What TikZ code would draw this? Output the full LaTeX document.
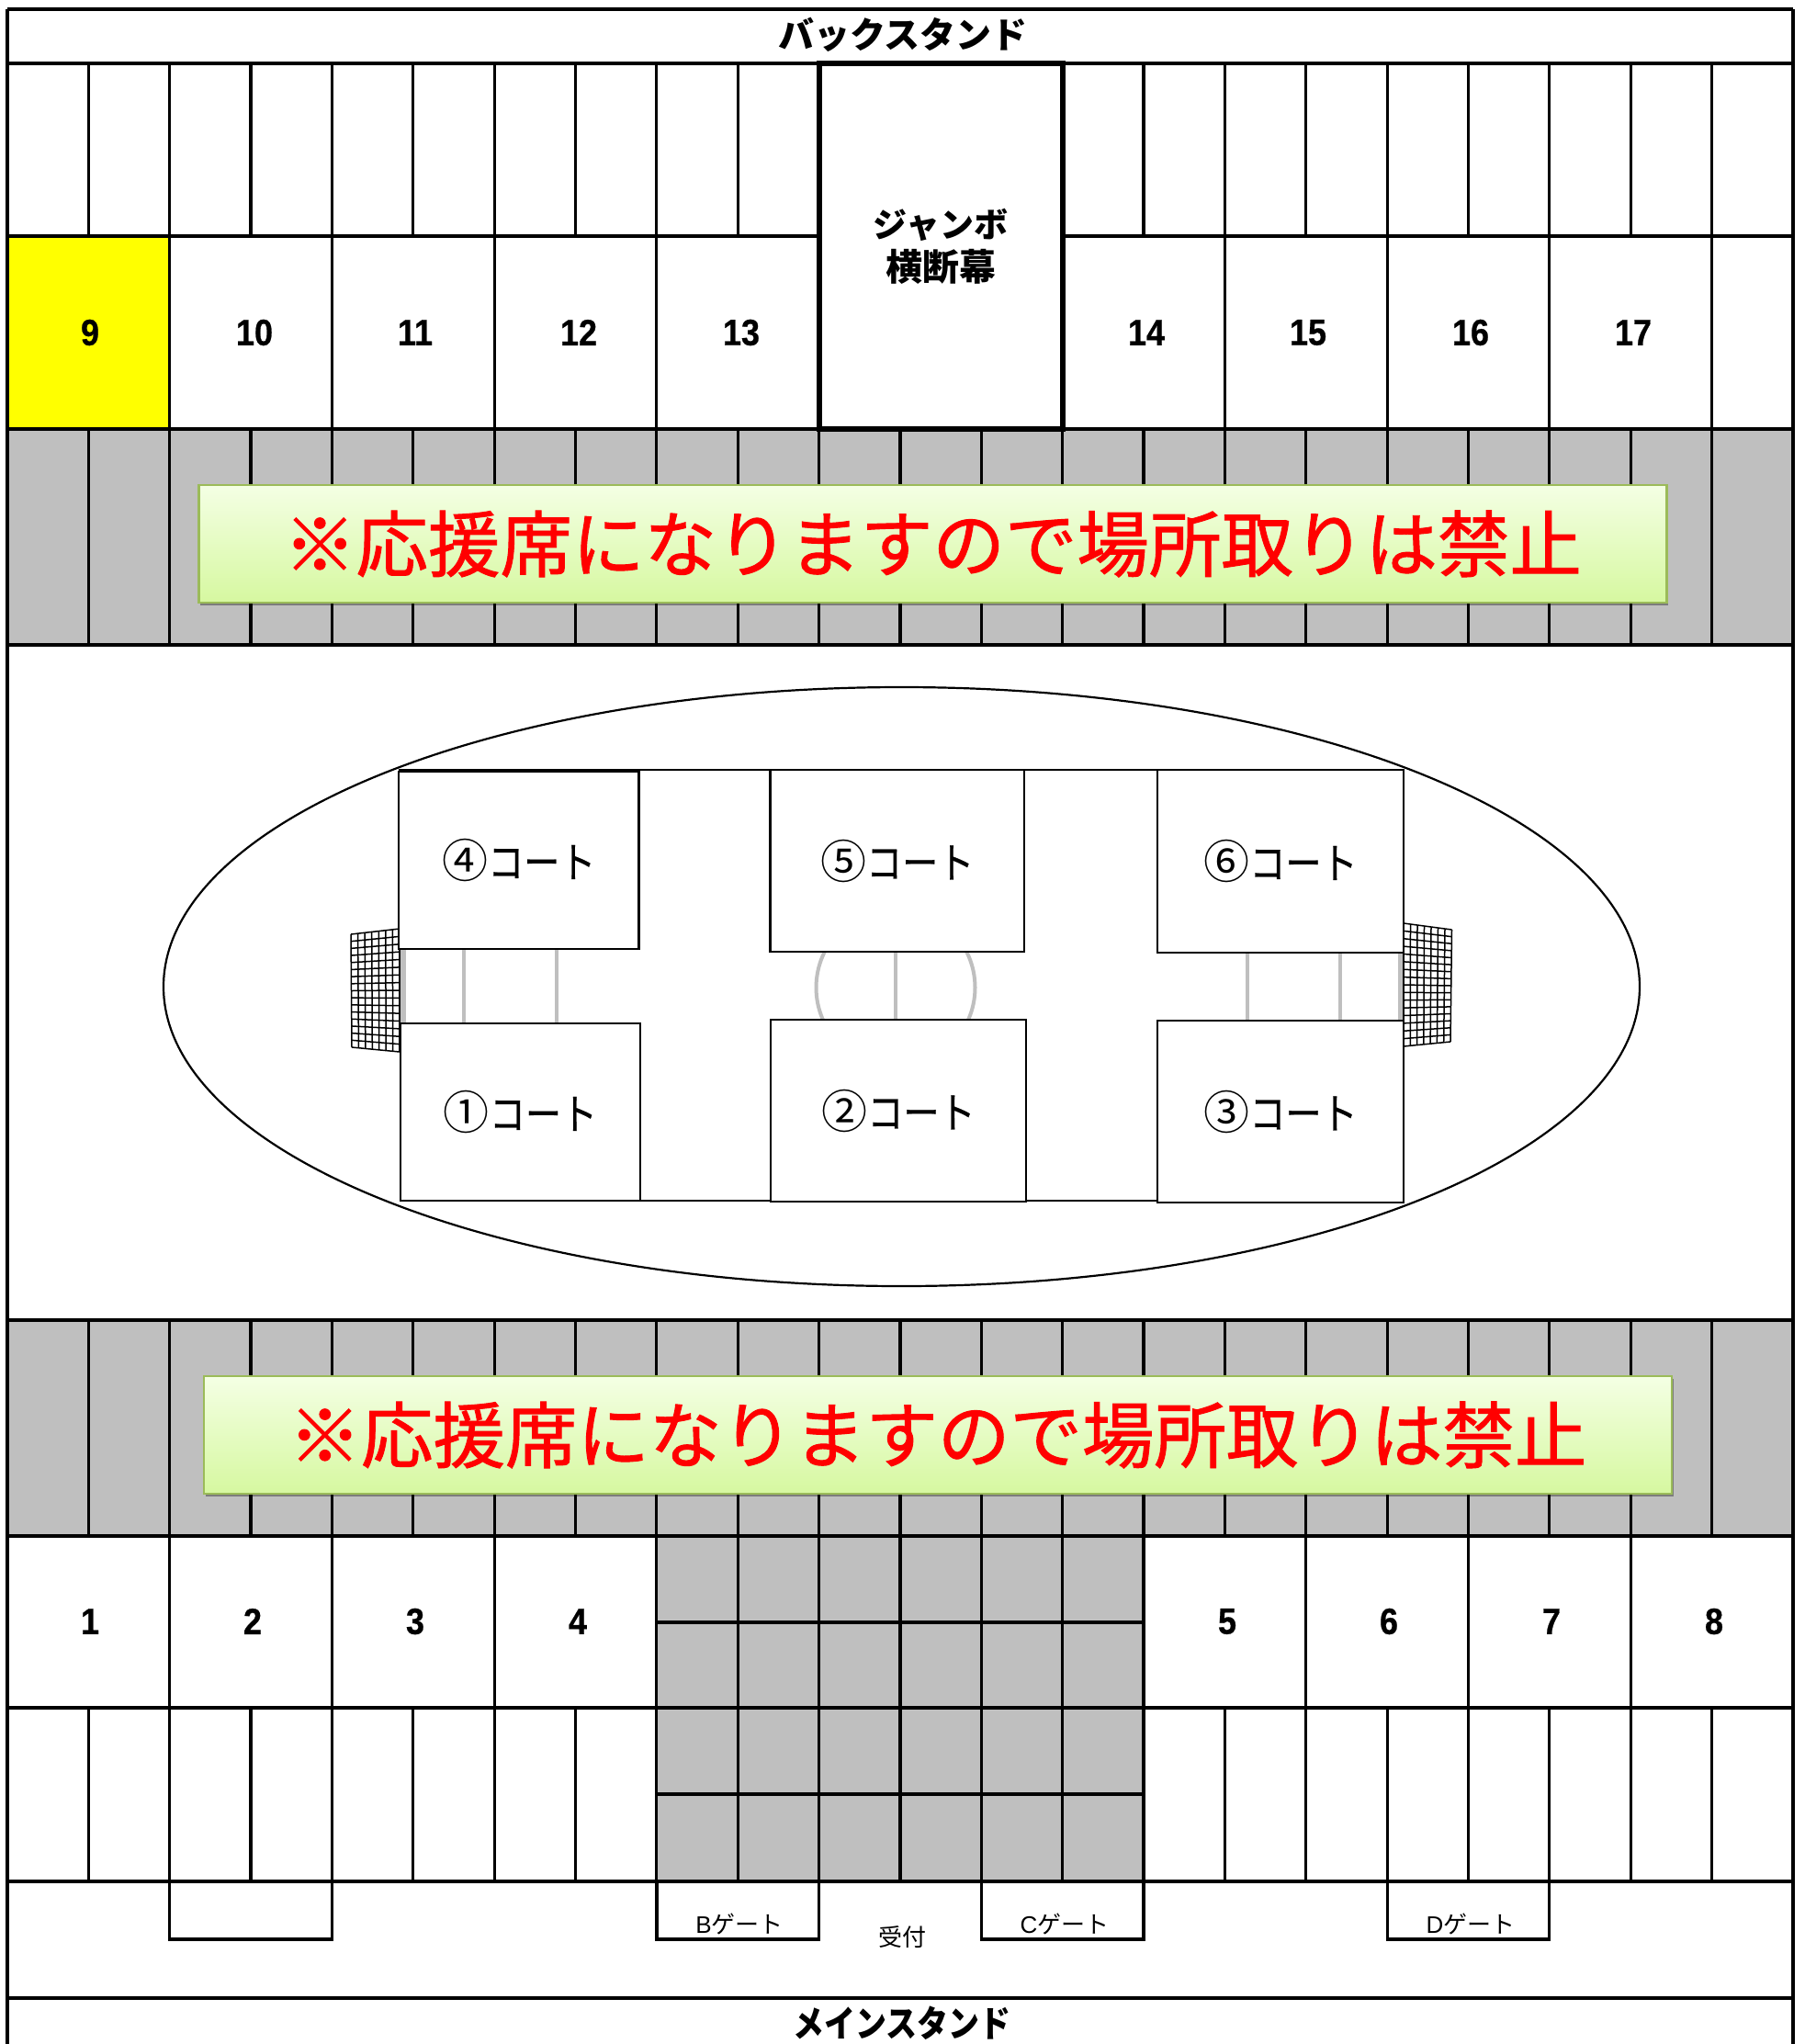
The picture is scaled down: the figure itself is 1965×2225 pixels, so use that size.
\documentclass[tikz,border=0pt]{standalone}
\usepackage{fontspec}
\setmainfont{Noto Sans CJK JP}
\newfontfamily\numfont[FakeStretch=0.9,FakeBold=0.6]{Liberation Sans}
\newfontfamily\gatefont{Liberation Sans}
\newfontfamily\narrowjp[FakeStretch=0.86]{Noto Sans CJK JP}
\newfontfamily\courtjp[FakeStretch=0.85,FakeBold=0.5]{Noto Sans CJK JP}
\newfontfamily\heavyjp[FakeBold=1.2]{Noto Sans CJK JP}
\usetikzlibrary{shadows}
\definecolor{bandgray}{HTML}{BFBFBF}
\definecolor{seatyellow}{HTML}{FFFF00}
\definecolor{bannertop}{HTML}{F4FFE4}
\definecolor{bannerbot}{HTML}{D6F8A0}
\definecolor{bannerline}{HTML}{9BBB59}
\newcommand{\vlines}[3]{\foreach \k in {#1}{\draw[gridline] ({8+88.36*\k},#2) -- ({8+88.36*\k},#3);}}
\newcommand{\hlines}[1]{\foreach \yy in {#1}{\draw[gridline] (8,\yy) -- (1952,\yy);}}
\newcommand{\courtlabel}[1]{{\fontsize{50}{50}\selectfont #1}{\courtjp\fontsize{46}{46}\selectfont コート}}
\tikzset{
  gridline/.style={line width=3.2pt,black},
  fieldline/.style={line width=2.2pt,black},
  courtbox/.style={draw=black,fill=white,line width=2.6pt,inner sep=0pt},
  marking/.style={line width=4pt,bandgray},
  netline/.style={line width=1.5pt,black},
  numlabel/.style={inner sep=0pt,font=\numfont\bfseries\fontsize{40}{40}\selectfont},
  standlabel/.style={inner sep=0pt,font=\bfseries\fontsize{39}{39}\selectfont},
  gatelabel/.style={inner sep=0pt,font=\fontsize{26}{26}\selectfont},
  bannerbox/.style={draw=bannerline,line width=2.5pt,top color=bannertop,bottom color=bannerbot,
    inner sep=0pt,minimum width=1598pt,minimum height=128pt,text=red,
    font=\heavyjp\fontsize{78.5}{78.5}\selectfont,
    drop shadow={shadow xshift=1.5pt,shadow yshift=-3pt,fill=black,opacity=0.35}},
}
\newcommand{\net}[8]{%
  \foreach \i in {0,...,7}{\draw[netline]
    ({#1+(#3-#1)*\i/7},{#2+(#4-#2)*\i/7}) -- ({#7+(#5-#7)*\i/7},{#8+(#6-#8)*\i/7});}
  \foreach \j in {0,...,16}{\draw[netline]
    ({#1+(#7-#1)*\j/16},{#2+(#8-#2)*\j/16}) -- ({#3+(#5-#3)*\j/16},{#4+(#6-#4)*\j/16});}
}
\begin{document}
\begin{tikzpicture}[x=1pt,y=-1pt]
\useasboundingbox[fill=white] (0,0) rectangle (1965,2225);
% coloured areas
\fill[seatyellow] (8,257) rectangle (184.7,467);
\fill[bandgray] (8,467) rectangle (1952,702);
\fill[bandgray] (8,1437) rectangle (1952,1672);
\fill[bandgray] (714.9,1672) rectangle (1245,2048);
% grid: top
\hlines{10,69,257,467,702,1437,1672,1859,2048,2175}
\vlines{1,...,9,14,15,...,21}{69}{257}
\vlines{2,4,6,8,15,17,19,21}{257}{467}
\vlines{1,...,21}{467}{702}
% grid: bottom
\vlines{1,...,21}{1437}{1672}
\vlines{2,4,6,8,14,16,18,20}{1672}{1859}
\vlines{9,10,...,13}{1672}{2048}
\vlines{1,...,21}{1859}{2048}
\foreach \yy in {1766,1953}{\draw[gridline] (714.9,\yy) -- (1245,\yy);}
% gates
\draw[gridline] (184.7,2048) -- (184.7,2111) -- (361.4,2111) -- (361.4,2048);
\draw[gridline] (714.9,2048) -- (714.9,2111) -- (891.6,2111) -- (891.6,2048);
\draw[gridline] (1068.4,2048) -- (1068.4,2111) -- (1245,2111) -- (1245,2048);
\draw[gridline] (1510.1,2048) -- (1510.1,2111) -- (1686.8,2111) -- (1686.8,2048);
% frame
\draw[gridline] (8,10) -- (8,2225);
\draw[gridline] (1952,10) -- (1952,2225);
% jumbo screen
\node[draw=black,fill=white,line width=6pt,minimum width=265pt,minimum height=398pt,inner sep=0pt] (jumbobox) at (1024,268) {};
\node[inner sep=0pt,align=center,font=\bfseries\fontsize{38}{47}\selectfont] (jumbotext) at (1024,268) {{\fontsize{37}{47}\selectfont ジャンボ}\\{\fontsize{40}{47}\selectfont 横断幕}};
% seat numbers, back side
\node[numlabel] (n9) at (98,362) {9};
\node[numlabel] (n10) at (277,362) {10};
\node[numlabel] (n11) at (452,362) {11};
\node[numlabel] (n12) at (630,362) {12};
\node[numlabel] (n13) at (807,362) {13};
\node[numlabel] (n14) at (1248,362) {14};
\node[numlabel] (n15) at (1424,362) {15};
\node[numlabel] (n16) at (1601,362) {16};
\node[numlabel] (n17) at (1778,362) {17};
% seat numbers, main side
\node[numlabel] (n1) at (98,1765) {1};
\node[numlabel] (n2) at (275,1765) {2};
\node[numlabel] (n3) at (452,1765) {3};
\node[numlabel] (n4) at (629,1765) {4};
\node[numlabel] (n5) at (1336,1765) {5};
\node[numlabel] (n6) at (1512,1765) {6};
\node[numlabel] (n7) at (1689,1765) {7};
\node[numlabel] (n8) at (1866,1765) {8};
% banners
\node[bannerbox] (banner1) at (1015.5,592) {※応援席になりますので場所取りは禁止};
\node[bannerbox] (banner2) at (1021,1562) {※応援席になりますので場所取りは禁止};
% stand titles
\node[standlabel] (back) at (983,38) {バックスタンド};
\node[standlabel,font=\narrowjp\bfseries\fontsize{39.5}{39.5}\selectfont] (main) at (982,2202) {メインスタンド};
% field
\draw[fieldline] (981.5,1074) ellipse [x radius=803.5,y radius=326];
\draw[fieldline] (434,838) -- (1528,838);
\draw[fieldline] (697,1307) -- (1260,1307);
% markings
\draw[line width=6pt,bandgray] (439,1033) -- (439,1114);
\draw[marking] (505,1033) -- (505,1114);
\draw[marking] (606,1033) -- (606,1114);
\draw[marking] (975,1075) circle [radius=86.5];
\draw[marking] (975,1036) -- (975,1110);
\draw[marking] (1358,1037) -- (1358,1111);
\draw[marking] (1458.7,1037) -- (1458.7,1111);
\draw[line width=6pt,bandgray] (1525,1037) -- (1525,1111);
% nets
\net{382}{1017}{435}{1011}{435}{1145}{383}{1140}
\net{1528}{1005}{1580.5}{1012}{1579}{1134}{1528}{1139}
% courts
\node[courtbox,minimum width=261.7pt,minimum height=193pt] (c4) at (564.8,936.5) {\courtlabel{④}};
\node[courtbox,minimum width=276.5pt,minimum height=198pt] (c5) at (976.7,937) {\courtlabel{⑤}};
\node[courtbox,minimum width=268pt,minimum height=199pt] (c6) at (1394,937.5) {\courtlabel{⑥}};
\node[courtbox,minimum width=261pt,minimum height=193pt] (c1) at (566.5,1210.5) {\courtlabel{①}};
\node[courtbox,minimum width=278pt,minimum height=198pt] (c2) at (978,1209) {\courtlabel{②}};
\node[courtbox,minimum width=268pt,minimum height=198pt] (c3) at (1394,1210) {\courtlabel{③}};
% gate labels
\node[gatelabel] (gateb) at (805,2094) {{\gatefont B}ゲート};
\node[gatelabel] (gatec) at (1159,2094) {{\gatefont C}ゲート};
\node[gatelabel] (gated) at (1601,2094) {{\gatefont D}ゲート};
\node[gatelabel] (reception) at (982,2109) {受付};
\end{tikzpicture}
\end{document}
